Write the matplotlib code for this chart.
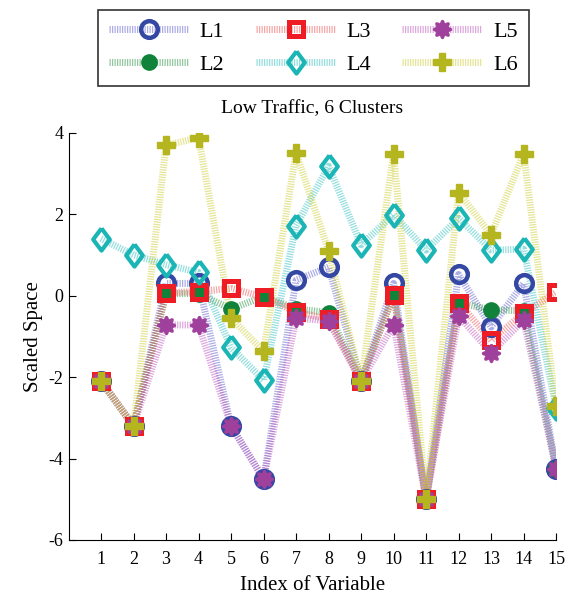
import numpy as np
import matplotlib
matplotlib.use("Agg")
import matplotlib.pyplot as plt
from matplotlib.lines import Line2D

plt.rcParams['font.family'] = ['Liberation Serif', 'DejaVu Serif']
plt.rcParams['axes.unicode_minus'] = False

x = list(range(1, 16))
labels = ["L1", "L2", "L3", "L4", "L5", "L6"]

L1 = [-2.1, -3.2, 0.3, 0.3, -3.2, -4.5, 0.38, 0.7, -2.1, 0.3, -5.0, 0.52, -0.77, 0.3, -4.25]
L2 = [-2.1, -3.2, 0.05, 0.05, -0.33, -0.02, -0.32, -0.42, -2.1, 0.02, -5.0, -0.17, -0.35, -0.37, -4.25]
L3 = [-2.1, -3.2, 0.07, 0.1, 0.18, -0.03, -0.4, -0.58, -2.1, 0.02, -5.0, -0.17, -1.1, -0.43, 0.08]
L4 = [1.4, 1.0, 0.76, 0.57, -1.27, -2.08, 1.72, 3.18, 1.25, 1.99, 1.12, 1.9, 1.12, 1.14, -2.75]
L5 = [-2.1, -3.2, -0.72, -0.72, -3.2, -4.5, -0.55, -0.62, -2.1, -0.71, -5.0, -0.5, -1.4, -0.6, -4.25]
L6 = [-2.1, -3.2, 3.69, 3.88, -0.55, -1.37, 3.51, 1.1, -2.1, 3.49, -5.0, 2.53, 1.5, 3.49, -2.72]
series = [L1, L2, L3, L4, L5, L6]

line_colors = ["#6a6ad0", "#3a9a50", "#f06060", "#40c4c4", "#c060c0", "#d0d040"]
mark_colors = ["#3347a3", "#11823a", "#ee1c24", "#1bb5b5", "#a0409d", "#b5b520"]

# marker shapes
diamond = [(0, 1), (0.75, 0), (0, -1), (-0.75, 0), (0, 1)]
th = np.linspace(0, 2 * np.pi, 81)
rr = 0.82 + 0.18 * np.cos(8 * th)
flower = list(zip(rr * np.sin(th), rr * np.cos(th)))

markers = ["o", "o", "s", diamond, flower, "P"]
msizes = [12, 11, 9.5, 16, 13, 12.5]
mews = [3.2, 1, 3.6, 3, 1, 1]
filled = [False, True, False, False, True, True]

fig = plt.figure(figsize=(5.71, 5.98), dpi=100)
ax = fig.add_axes([0.12, 0.097, 0.854, 0.681])

handles = []
for i, y in enumerate(series):
    face = mark_colors[i] if filled[i] else "none"
    ax.plot(x, y, color=line_colors[i], lw=5, alpha=0.55,
            dashes=(0.18, 0.18), zorder=2 + i)
    ax.plot(x, y, ls="none", marker=markers[i], ms=msizes[i],
            mfc=face, mec=mark_colors[i], mew=mews[i], zorder=10 + i)
    ln = Line2D([], [], color=line_colors[i], lw=5, alpha=0.55, dashes=(0.18, 0.18))
    mk = Line2D([], [], ls="none", marker=markers[i], ms=msizes[i],
                mfc=face, mec=mark_colors[i], mew=mews[i])
    handles.append((ln, mk))

ax.set_xlim(0, 15)
ax.set_ylim(-6, 4)
ax.set_xticks(x)
ax.set_yticks([-6, -4, -2, 0, 2, 4])
ax.tick_params(direction="in", labelsize=13, length=5)
ax.tick_params(axis="x", pad=8)
for s in ["top", "right"]:
    ax.spines[s].set_visible(False)

ax.set_xlabel("Index of Variable", fontsize=15, labelpad=6)
ax.set_ylabel("Scaled Space", fontsize=15)
ax.set_title("Low Traffic, 6 Clusters", fontsize=14, pad=14)

leg = fig.legend(handles, labels, loc="upper center", bbox_to_anchor=(0.549, 0.983),
                 ncol=3, fontsize=16, frameon=True, fancybox=False, edgecolor="black",
                 handlelength=3.6, handletextpad=0.5, columnspacing=1.4,
                 labelspacing=0.55, borderpad=0.5, borderaxespad=0)
leg.get_frame().set_linewidth(1.2)

fig.savefig("out.png", dpi=100)
